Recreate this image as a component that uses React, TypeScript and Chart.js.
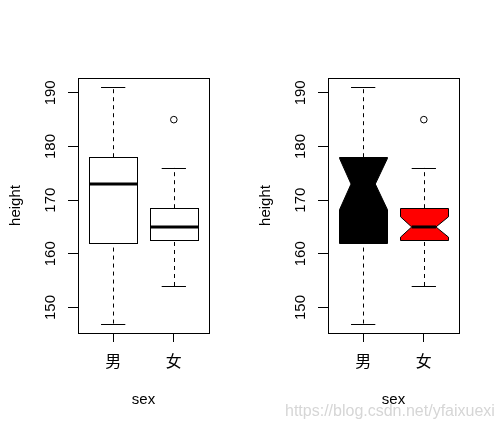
import React, { useEffect, useRef } from 'react';
import { Chart, registerables } from 'chart.js';

Chart.register(...registerables);

// ---- data ----
const categories = ['男', '女'];
const whiskerLow = [147, 154];
const q1 = [162, 162.5];
const medians = [173, 165];
const q3 = [178, 168.5];
const whiskerHigh = [191, 176];
const notchLow = [168.2, 163.1];
const notchHigh = [177.8, 166.9];
const outliers: number[][] = [[], [185]];
const yTicks = [150, 160, 170, 180, 190];
const yMin = 145.24;
const yMax = 192.76;
const xMin = 0.42;
const xMax = 2.58;

const notchFills = ['#000000', '#ff0000'];
const FONT = '"Liberation Sans", Arial, sans-serif';

const boxPlugin = {
  id: 'boxes',
  beforeDatasetsDraw(chart: any, _args: any, opts: any) {
    const { ctx } = chart;
    const x = chart.scales.x;
    const y = chart.scales.y;
    const notched = !!opts.notched;
    const yp = (v: number) => y.getPixelForValue(v);
    categories.forEach((_, i) => {
      const cx = x.getPixelForValue(i + 1);
      const half = x.getPixelForValue(i + 1 + 0.4) - cx;
      const cap = half / 2;
      const px = Math.round(cx) + 0.5;
      ctx.save();
      ctx.strokeStyle = '#000';
      ctx.lineWidth = 1;
      // dashed whiskers
      ctx.setLineDash([4, 4]);
      ctx.beginPath();
      ctx.moveTo(px, yp(whiskerLow[i]));
      ctx.lineTo(px, yp(q1[i]));
      ctx.moveTo(px, yp(q3[i]));
      ctx.lineTo(px, yp(whiskerHigh[i]));
      ctx.stroke();
      ctx.setLineDash([]);
      // staples
      ctx.beginPath();
      const yl = Math.round(yp(whiskerLow[i])) + 0.5;
      const yh = Math.round(yp(whiskerHigh[i])) + 0.5;
      ctx.moveTo(cx - cap, yl);
      ctx.lineTo(cx + cap, yl);
      ctx.moveTo(cx - cap, yh);
      ctx.lineTo(cx + cap, yh);
      ctx.stroke();
      const l = Math.round(cx - half) + 0.5;
      const r = Math.round(cx + half) + 0.5;
      const t = Math.round(yp(q3[i])) + 0.5;
      const b = Math.round(yp(q1[i])) + 0.5;
      const m = yp(medians[i]);
      if (notched) {
        const nw = half / 2;
        ctx.beginPath();
        ctx.moveTo(l, t);
        ctx.lineTo(r, t);
        ctx.lineTo(r, yp(notchHigh[i]));
        ctx.lineTo(cx + nw, m);
        ctx.lineTo(r, yp(notchLow[i]));
        ctx.lineTo(r, b);
        ctx.lineTo(l, b);
        ctx.lineTo(l, yp(notchLow[i]));
        ctx.lineTo(cx - nw, m);
        ctx.lineTo(l, yp(notchHigh[i]));
        ctx.closePath();
        ctx.fillStyle = notchFills[i];
        ctx.fill();
        ctx.stroke();
        ctx.lineWidth = 3;
        ctx.beginPath();
        ctx.moveTo(cx - nw, m);
        ctx.lineTo(cx + nw, m);
        ctx.stroke();
      } else {
        ctx.fillStyle = '#ffffff';
        ctx.fillRect(l, t, r - l, b - t);
        ctx.strokeRect(l, t, r - l, b - t);
        ctx.lineWidth = 3;
        ctx.beginPath();
        ctx.moveTo(l, m);
        ctx.lineTo(r, m);
        ctx.stroke();
      }
      ctx.restore();
    });
  },
};

const framePlugin = {
  id: 'frame',
  afterDatasetsDraw(chart: any) {
    const { ctx, chartArea: a } = chart;
    ctx.save();
    ctx.strokeStyle = '#000';
    ctx.lineWidth = 1;
    const l = Math.round(a.left) + 0.5;
    const t = Math.round(a.top) + 0.5;
    ctx.strokeRect(l, t, Math.round(a.right) - Math.round(a.left), Math.round(a.bottom) - Math.round(a.top));
    ctx.restore();
  },
};

function BoxPanel({ notched }: { notched: boolean }) {
  const ref = useRef<HTMLCanvasElement>(null);
  useEffect(() => {
    if (!ref.current) return;
    const outlierPoints: { x: number; y: number }[] = [];
    outliers.forEach((arr, i) => arr.forEach((v) => outlierPoints.push({ x: i + 1, y: v })));
    const chart = new Chart(ref.current, {
      type: 'scatter',
      data: {
        datasets: [
          {
            data: outlierPoints,
            pointRadius: 3.3,
            pointBorderWidth: 1,
            borderColor: '#000',
            backgroundColor: 'rgba(0,0,0,0)',
            pointStyle: 'circle',
          },
        ],
      },
      options: {
        responsive: false,
        animation: false,
        events: [],
        layout: { padding: { top: 78, right: 41, left: 0, bottom: 0 } },
        plugins: {
          legend: { display: false },
          tooltip: { enabled: false },
          boxes: { notched },
        } as any,
        scales: {
          x: {
            type: 'linear',
            min: xMin,
            max: xMax,
            afterBuildTicks: (s: any) => {
              s.ticks = categories.map((_, i) => ({ value: i + 1 }));
            },
            afterFit: (s: any) => {
              s.height = 98;
            },
            ticks: {
              callback: (v: any) => categories[Number(v) - 1],
              font: { family: '"Noto Sans CJK SC"', size: 16 },
              color: '#000',
              padding: 9,
              maxRotation: 0,
              autoSkip: false,
            },
            grid: { drawOnChartArea: false, drawTicks: true, tickLength: 9, color: '#000', tickWidth: 1 },
            border: { display: true, color: '#000', width: 1 },
            title: {
              display: true,
              text: 'sex',
              color: '#000',
              font: { family: FONT, size: 15 },
              padding: { top: 0, bottom: 22 },
            },
          },
          y: {
            type: 'linear',
            min: yMin,
            max: yMax,
            afterBuildTicks: (s: any) => {
              s.ticks = yTicks.map((v) => ({ value: v }));
            },
            afterFit: (s: any) => {
              s.width = 78;
            },
            ticks: {
              minRotation: 90,
              maxRotation: 90,
              crossAlign: 'center',
              padding: 5,
              color: '#000',
              font: { family: FONT, size: 15 },
              autoSkip: false,
            },
            grid: { drawOnChartArea: false, drawTicks: true, tickLength: 10, color: '#000', tickWidth: 1 },
            border: { display: true, color: '#000', width: 1 },
            title: {
              display: true,
              text: 'height',
              color: '#000',
              font: { family: FONT, size: 15 },
              padding: { top: 7, bottom: 0 },
            },
          },
        },
      } as any,
      plugins: [boxPlugin, framePlugin],
    });
    return () => chart.destroy();
  }, [notched]);
  return <canvas ref={ref} width={250} height={431} style={{ display: 'block', width: 250, height: 431 }} />;
}

export default function App() {
  return (
    <div style={{ position: 'absolute', left: 0, top: 0, width: 500, height: 431, background: '#fff', display: 'flex', overflow: 'hidden' }}>
      <BoxPanel notched={false} />
      <BoxPanel notched={true} />
      <div
        style={{
          position: 'absolute',
          left: 285,
          top: 402,
          fontFamily: FONT,
          fontSize: 16,
          color: '#d6d6d6',
          whiteSpace: 'nowrap',
          pointerEvents: 'none',
        }}
      >
        https://blog.csdn.net/yfaixuexi
      </div>
    </div>
  );
}
